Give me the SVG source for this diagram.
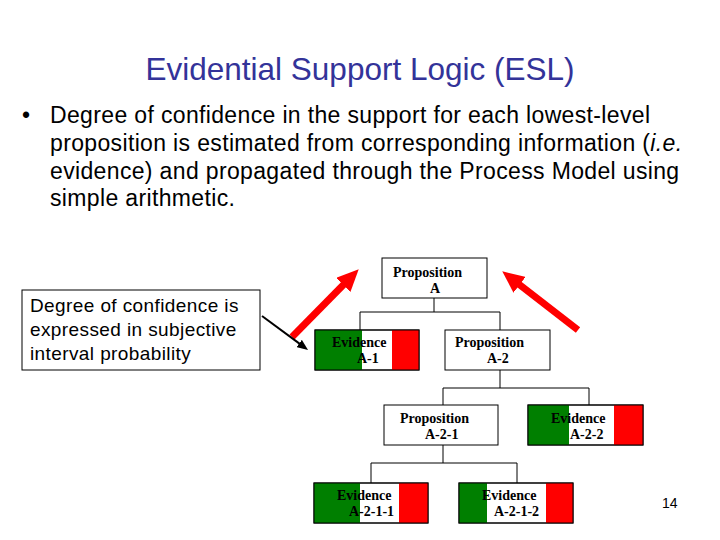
<svg xmlns="http://www.w3.org/2000/svg" width="720" height="540" viewBox="0 0 720 540">
<defs>
<style>
.title{font-family:"Liberation Sans",Arial,sans-serif;font-size:31.5px;fill:#333399}
.body{font-family:"Liberation Sans",Arial,sans-serif;font-size:23px;letter-spacing:0.35px;fill:#000}
.note{font-family:"Liberation Sans",Arial,sans-serif;font-size:19px;letter-spacing:0.4px;fill:#000}
.lbl{font-family:"Liberation Serif","Times New Roman",serif;font-size:14px;font-weight:bold;fill:#000}
.box{fill:#fff;stroke:#000;stroke-width:1}
.g{fill:#007f00}
.r{fill:#ff0000}
.wire{fill:none;stroke:#000;stroke-width:1}
.red{fill:none;stroke:#ff0000;stroke-width:7}
.blk{fill:none;stroke:#000;stroke-width:2}
</style>
<marker id="redHead" markerUnits="userSpaceOnUse" viewBox="0 0 22 20" markerWidth="22" markerHeight="20" refX="9" refY="10" orient="auto">
<path d="M0,0 L22,10 L0,20 z" fill="#ff0000"/>
</marker>
<marker id="blkHead" markerUnits="userSpaceOnUse" viewBox="0 0 11 9" markerWidth="11" markerHeight="9" refX="5" refY="4.5" orient="auto">
<path d="M0,0 L11,4.5 L0,9 z" fill="#000"/>
</marker>
</defs>
<rect width="720" height="540" fill="#fff"/>
<text class="title" x="360" y="80" text-anchor="middle">Evidential Support Logic (ESL)</text>
<g id="bullet">
<text class="body" x="22" y="123">•</text>
<text class="body" x="50" y="123">Degree of confidence in the support for each lowest-level</text>
<text class="body" x="50" y="151">proposition is estimated from corresponding information (<tspan font-style="italic">i.e.</tspan></text>
<text class="body" x="50" y="179">evidence) and propagated through the Process Model using</text>
<text class="body" x="50" y="206">simple arithmetic.</text>
</g>
<g id="connectors">
<path class="wire" d="M434,298 V312 M360,330 V312 H500 V330"/>
<path class="wire" d="M500,370 V388 M443,405 V388 H589 V405"/>
<path class="wire" d="M443,445 V463 M371,483 V463 H517 V483"/>
<path class="red" d="M292,337 L349.6,278.5" marker-end="url(#redHead)"/>
<path class="red" d="M578,330 L512.5,279.3" marker-end="url(#redHead)"/>
<path class="blk" d="M262,316 L303.2,346.4" marker-end="url(#blkHead)"/>
</g>
<g id="note">
<rect class="box" x="22" y="290" width="238" height="80"/>
<text class="note" x="30" y="312">Degree of confidence is</text>
<text class="note" x="30" y="336">expressed in subjective</text>
<text class="note" x="30" y="360">interval probability</text>
</g>
<g id="propA">
<rect class="box" x="382" y="258" width="105" height="40"/>
<text class="lbl" x="393" y="277">Proposition</text>
<text class="lbl" x="430" y="293">A</text>
</g>
<g id="evA1">
<rect class="box" x="315" y="330" width="104" height="40"/>
<rect class="g" x="315" y="330" width="47" height="40"/>
<rect class="r" x="392" y="330" width="27" height="40"/>
<rect class="wire" x="315" y="330" width="104" height="40"/>
<text class="lbl" x="332" y="347">Evidence</text>
<text class="lbl" x="357" y="363">A-1</text>
</g>
<g id="propA2">
<rect class="box" x="445" y="330" width="105" height="40"/>
<text class="lbl" x="455" y="347">Proposition</text>
<text class="lbl" x="487" y="363">A-2</text>
</g>
<g id="propA21">
<rect class="box" x="384" y="405" width="114" height="40"/>
<text class="lbl" x="400" y="423">Proposition</text>
<text class="lbl" x="425" y="439">A-2-1</text>
</g>
<g id="evA22">
<rect class="box" x="528" y="405" width="115" height="40"/>
<rect class="g" x="528" y="405" width="41" height="40"/>
<rect class="r" x="614" y="405" width="29" height="40"/>
<rect class="wire" x="528" y="405" width="115" height="40"/>
<text class="lbl" x="551" y="423">Evidence</text>
<text class="lbl" x="570" y="439">A-2-2</text>
</g>
<g id="evA211">
<rect class="box" x="314" y="483" width="114" height="40"/>
<rect class="g" x="314" y="483" width="46" height="40"/>
<rect class="r" x="399" y="483" width="29" height="40"/>
<rect class="wire" x="314" y="483" width="114" height="40"/>
<text class="lbl" x="337" y="500">Evidence</text>
<text class="lbl" x="349" y="516">A-2-1-1</text>
</g>
<g id="evA212">
<rect class="box" x="459" y="483" width="114" height="40"/>
<rect class="g" x="459" y="483" width="28" height="40"/>
<rect class="r" x="546" y="483" width="27" height="40"/>
<rect class="wire" x="459" y="483" width="114" height="40"/>
<text class="lbl" x="482" y="500">Evidence</text>
<text class="lbl" x="494" y="516">A-2-1-2</text>
</g>
<text x="662" y="508" font-family="'Liberation Sans',Arial,sans-serif" font-size="14" fill="#000">14</text>
</svg>
